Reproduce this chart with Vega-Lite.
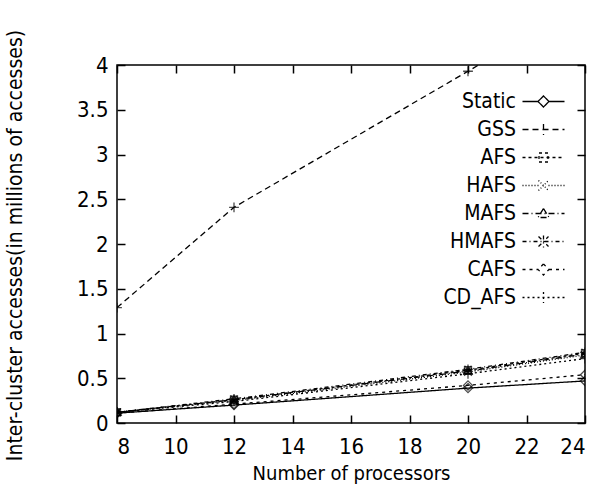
{
  "$schema": "https://vega.github.io/schema/vega-lite/v6.json",
  "width": 468,
  "height": 358,
  "autosize": "none",
  "padding": {"left": 117, "top": 65, "right": 13, "bottom": 67},
  "background": "white",
  "config": {
    "font": "DejaVu Sans Condensed, Liberation Sans, sans-serif",
    "view": {"stroke": "black", "strokeWidth": 1.5},
    "axis": {"grid": false, "domain": false, "tickColor": "black", "tickSize": -8, "tickWidth": 1.5, "labelColor": "black", "titleColor": "black", "labelFont": "DejaVu Sans Condensed, Liberation Sans, sans-serif", "titleFont": "DejaVu Sans Condensed, Liberation Sans, sans-serif", "labelFontSize": 22, "titleFontSize": 20, "titleFontWeight": "normal"}
  },
  "data": {"values": [
    {"p": 8, "alg": "Static", "v": 0.11}, {"p": 12, "alg": "Static", "v": 0.20}, {"p": 20, "alg": "Static", "v": 0.39}, {"p": 24, "alg": "Static", "v": 0.47},
    {"p": 8, "alg": "GSS", "v": 1.29}, {"p": 12, "alg": "GSS", "v": 2.41}, {"p": 20, "alg": "GSS", "v": 3.93}, {"p": 24, "alg": "GSS", "v": 4.7},
    {"p": 8, "alg": "AFS", "v": 0.12}, {"p": 12, "alg": "AFS", "v": 0.26}, {"p": 20, "alg": "AFS", "v": 0.59}, {"p": 24, "alg": "AFS", "v": 0.78},
    {"p": 8, "alg": "HAFS", "v": 0.12}, {"p": 12, "alg": "HAFS", "v": 0.25}, {"p": 20, "alg": "HAFS", "v": 0.57}, {"p": 24, "alg": "HAFS", "v": 0.76},
    {"p": 8, "alg": "MAFS", "v": 0.12}, {"p": 12, "alg": "MAFS", "v": 0.26}, {"p": 20, "alg": "MAFS", "v": 0.58}, {"p": 24, "alg": "MAFS", "v": 0.77},
    {"p": 8, "alg": "HMAFS", "v": 0.12}, {"p": 12, "alg": "HMAFS", "v": 0.27}, {"p": 20, "alg": "HMAFS", "v": 0.60}, {"p": 24, "alg": "HMAFS", "v": 0.79},
    {"p": 8, "alg": "CAFS", "v": 0.11}, {"p": 12, "alg": "CAFS", "v": 0.21}, {"p": 20, "alg": "CAFS", "v": 0.42}, {"p": 24, "alg": "CAFS", "v": 0.54},
    {"p": 8, "alg": "CD_AFS", "v": 0.12}, {"p": 12, "alg": "CD_AFS", "v": 0.24}, {"p": 20, "alg": "CD_AFS", "v": 0.55}, {"p": 24, "alg": "CD_AFS", "v": 0.72}
  ]},
  "layer": [
    {
      "mark": {"type": "line", "color": "black", "strokeWidth": 1.3, "clip": true},
      "encoding": {
        "x": {"field": "p", "type": "quantitative", "scale": {"domain": [8, 24], "nice": false}, "axis": {"values": [8, 10, 12, 14, 16, 18, 20, 22, 24], "title": "Number of processors", "labelPadding": 21, "titleX": 234, "titleY": 50, "titleBaseline": "middle"}},
        "y": {"field": "v", "type": "quantitative", "scale": {"domain": [0, 4], "nice": false}, "axis": {"values": [0, 0.5, 1, 1.5, 2, 2.5, 3, 3.5, 4], "format": "~g", "title": "Inter-cluster accesses(in millions of accesses)", "titleFontSize": 21, "labelPadding": 17, "titleX": -102, "titleY": 180, "titleBaseline": "middle"}},
        "detail": {"field": "alg"},
        "strokeDash": {"field": "alg", "type": "nominal", "legend": null, "scale": {"domain": ["Static", "GSS", "AFS", "HAFS", "MAFS", "HMAFS", "CAFS", "CD_AFS"], "range": [[1, 0], [6, 4], [3, 3], [1, 2], [6, 3, 1, 3], [4, 3, 1, 3], [3, 4], [2, 3]]}}
      }
    },
    {
      "mark": {"type": "point", "color": "black", "filled": false, "size": 49, "strokeWidth": 1.3, "clip": true},
      "encoding": {
        "x": {"field": "p", "type": "quantitative", "scale": {"domain": [8, 24], "nice": false}, "axis": {"orient": "top", "values": [8, 10, 12, 14, 16, 18, 20, 22, 24], "labels": false, "title": null}},
        "y": {"field": "v", "type": "quantitative", "scale": {"domain": [0, 4], "nice": false}, "axis": {"orient": "right", "values": [0, 0.5, 1, 1.5, 2, 2.5, 3, 3.5, 4], "labels": false, "title": null}},
        "shape": {"field": "alg", "type": "nominal", "legend": null, "scale": {"domain": ["Static", "GSS", "AFS", "HAFS", "MAFS", "HMAFS", "CAFS", "CD_AFS"], "range": [
          "M0,-1.3L1.3,0L0,1.3L-1.3,0Z",
          "M-1.4,0H1.4M0,-1.4V1.4",
          "M-1,-1H1V1H-1ZM-1,0H1",
          "M-1.1,-1.1L1.1,1.1M-1.1,1.1L1.1,-1.1",
          "M0,-1.2L1.2,0.9H-1.2Z",
          "M-1.4,0H1.4M0,-1.4V1.4M-1,-1L1,1M-1,1L1,-1",
          "M0,-1.3L1.3,0L0,1.3L-1.3,0Z",
          "M-1.4,0H1.4M0,-1.4V1.4"
        ]}}
      }
    },
    {
      "transform": [{"filter": "datum.p == 8"}],
      "mark": {"type": "point", "color": "black", "filled": false, "opacity": 0, "size": 100, "strokeWidth": 1.3},
      "encoding": {
        "x": {"field": "p", "type": "quantitative", "axis": null},
        "y": {"field": "v", "type": "quantitative", "axis": null},
        "shape": {"field": "alg", "type": "nominal", "scale": {"domain": ["Static", "GSS", "AFS", "HAFS", "MAFS", "HMAFS", "CAFS", "CD_AFS"], "range": [
          "M-4.2,0H-1.1M1.1,0H4.2M0,-1.1L1.1,0L0,1.1L-1.1,0Z",
          "M-4.2,0H4.2M0,-1.1V1.1",
          "M-4.2,0H4.2M-0.9,-0.9H0.9V0.9H-0.9Z",
          "M-4.2,0H-1M1,0H4.2M-1,-1L1,1M-1,1L1,-1",
          "M-4.2,0H4.2M0,-1L1.1,0.8H-1.1Z",
          "M-4.2,0H4.2M0,-1.2V1.2M-1,-1L1,1M-1,1L1,-1",
          "M-4.2,0H-1.1M1.1,0H4.2M0,-1.1L1.1,0L0,1.1L-1.1,0Z",
          "M-4.2,0H4.2M0,-1.1V1.1"
        ]},
          "legend": {"orient": "none", "legendX": 416, "legendY": 26, "title": null, "padding": 0, "labelFont": "DejaVu Sans Condensed, Liberation Sans, sans-serif", "labelFontSize": 21, "labelColor": "black", "labelAlign": "right", "labelOffset": -38, "rowPadding": 6, "symbolSize": 100, "symbolStrokeColor": "black", "symbolStrokeWidth": 1.3, "symbolOpacity": 1, "symbolFillColor": "transparent", "encode": {"symbols": {"update": {"opacity": {"value": 1}}}}}},
        "strokeDash": {"field": "alg", "type": "nominal", "scale": {"domain": ["Static", "GSS", "AFS", "HAFS", "MAFS", "HMAFS", "CAFS", "CD_AFS"], "range": [[1, 0], [6, 4], [3, 3], [1, 2], [6, 3, 1, 3], [4, 3, 1, 3], [3, 4], [2, 3]]}}
      }
    }
  ],
  "resolve": {"scale": {"shape": "independent", "strokeDash": "independent"}, "axis": {"x": "independent", "y": "independent"}}
}
